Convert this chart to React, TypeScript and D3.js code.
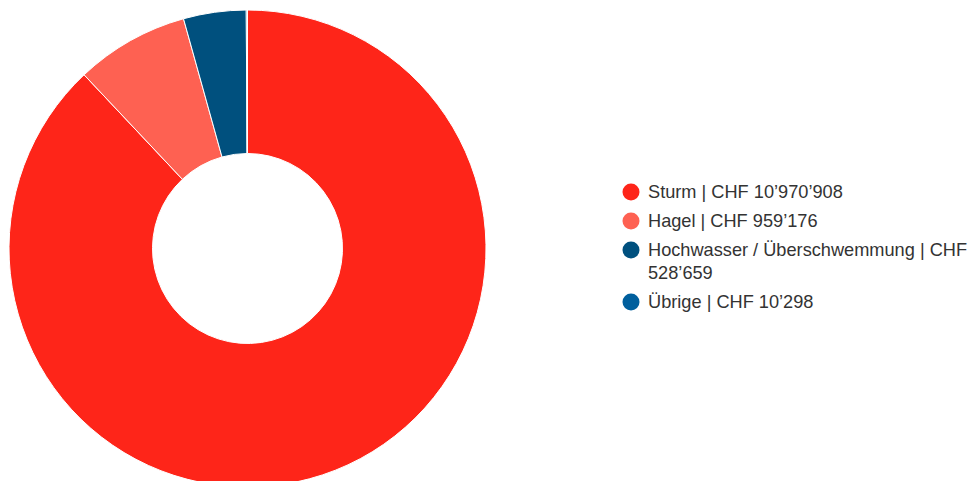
import React from "react";
import * as d3 from "d3";

const categories = ["Sturm", "Hagel", "Hochwasser / Überschwemmung", "Übrige"];
const values = [10970908, 959176, 528659, 10298];
const valueLabels = ["10’970’908", "959’176", "528’659", "10’298"];
const colors = ["#fe2519", "#fe6152", "#00507e", "#005f9d"];
const legendLines = [
  ["Sturm | CHF 10’970’908"],
  ["Hagel | CHF 959’176"],
  ["Hochwasser / Überschwemmung | CHF", "528’659"],
  ["Übrige | CHF 10’298"],
];

export default function App() {
  const width = 978;
  const height = 481;
  const cx = 247.5;
  const cy = 248.5;
  const outerR = 238.5;
  const innerR = 95;

  const pie = d3.pie<number>().sort(null).value((d) => d);
  const arcs = pie(values);
  const arcGen = d3.arc<d3.PieArcDatum<number>>().innerRadius(innerR).outerRadius(outerR);

  const legendX = 631;
  const legendStartY = 192;
  const itemGap = 29;
  const wrapGap = 23;
  let y = legendStartY;
  const legendItems = legendLines.map((lines, i) => {
    const item = { i, y, lines };
    y += itemGap + (lines.length - 1) * wrapGap;
    return item;
  });

  return (
    <svg width={width} height={height} style={{ position: "absolute", left: 0, top: 0 }}>
      <rect width={width} height={height} fill="#fff" />
      <g transform={`translate(${cx},${cy})`}>
        {arcs.map((a, i) => (
          <path key={i} d={arcGen(a) || ""} fill={colors[i]} stroke="#fff" strokeWidth={1} />
        ))}
      </g>
      <g fontFamily="'Liberation Sans', Arial, sans-serif" fontSize={18.2} fill="#333">
        {legendItems.map((it) => (
          <g key={it.i}>
            <circle cx={legendX} cy={it.y} r={8.5} fill={colors[it.i]} />
            {it.lines.map((ln, j) => (
              <text key={j} x={legendX + 17} y={it.y + j * wrapGap} dy="0.35em">
                {ln}
              </text>
            ))}
          </g>
        ))}
      </g>
    </svg>
  );
}
